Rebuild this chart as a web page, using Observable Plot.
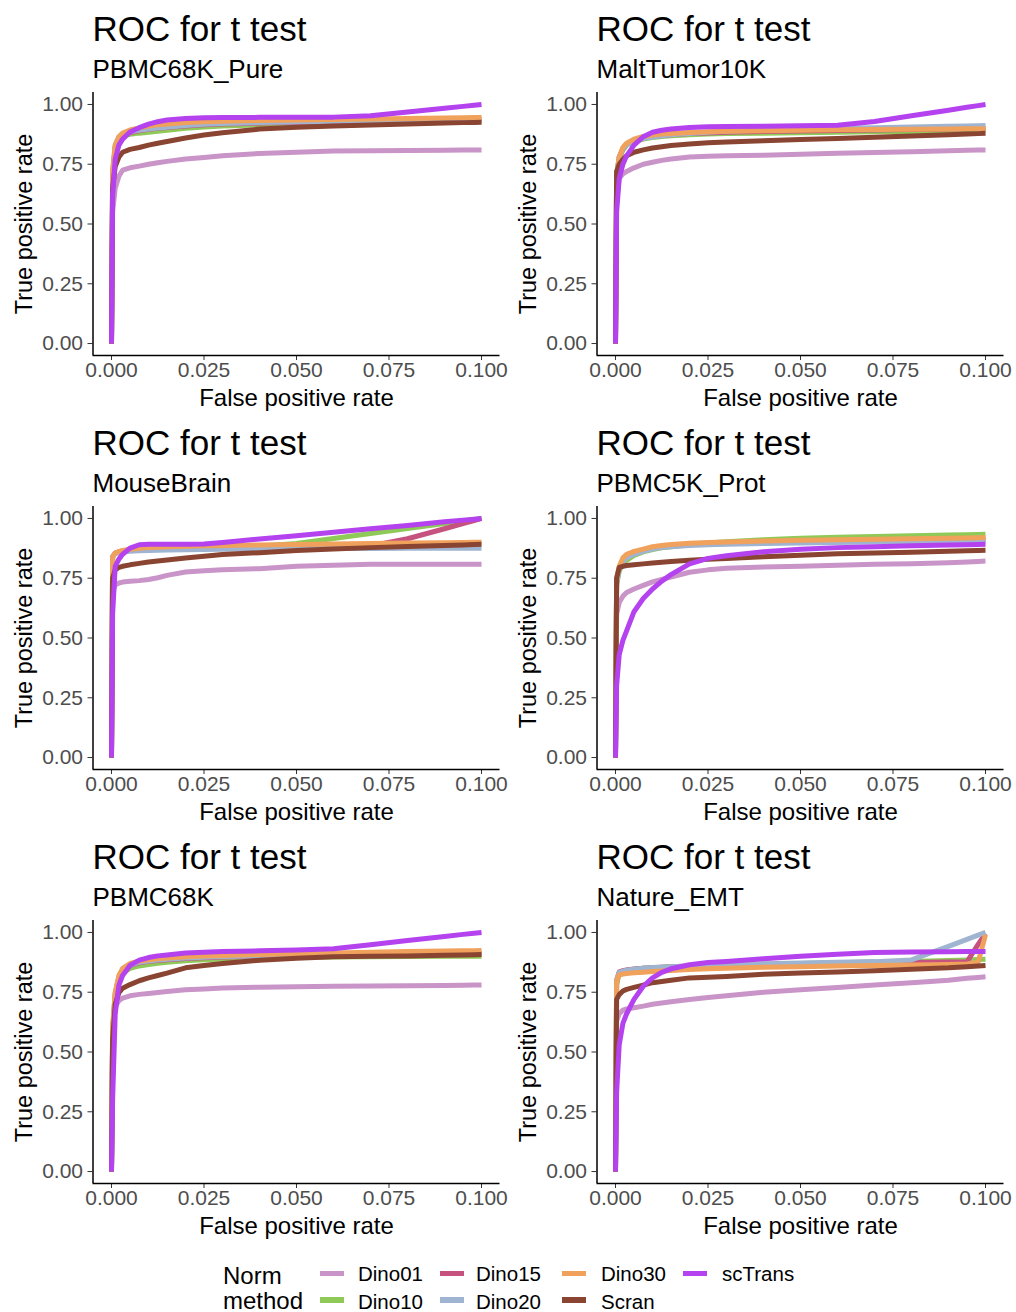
<!DOCTYPE html>
<html>
<head>
<meta charset="utf-8">
<script src="https://cdn.jsdelivr.net/npm/d3@7"></script>
<script src="https://cdn.jsdelivr.net/npm/@observablehq/plot@0.6"></script>
<style>
  html, body { margin: 0; padding: 0; background: #fff; }
  body { width: 1016px; height: 1312px; position: relative; overflow: hidden;
         font-family: "Liberation Sans", Arial, Helvetica, sans-serif; }
  .panel { position: absolute; }
  .ttl { position: absolute; font-size: 35px; line-height: 1; color: #000; white-space: nowrap; }
  .sub { position: absolute; font-size: 26px; line-height: 1; color: #000; white-space: nowrap; }
  g[aria-label="x-axis tick"], g[aria-label="y-axis tick"] { stroke: #333333; }
  .leg { position: absolute; font-size: 20.5px; line-height: 0.8; color: #000; white-space: nowrap; }
  .legt { position: absolute; font-size: 24px; line-height: 0.8; color: #000; white-space: nowrap; }
  .key { position: absolute; width: 24px; height: 5.5px; }
</style>
</head>
<body>
<script>
// ---------- data ----------
const methods = ["Dino01", "Dino10", "Dino15", "Dino20", "Dino30", "Scran", "scTrans"];
const methodColors = ["#c994c7", "#8fc957", "#c6527f", "#9fb4d0", "#f0a15c", "#8a4432", "#b442ee"];
const datasets = ["PBMC68K_Pure", "MaltTumor10K", "MouseBrain", "PBMC5K_Prot", "PBMC68K", "Nature_EMT"];
const plotTitle = "ROC for t test";
const xLabel = "False positive rate";
const yLabel = "True positive rate";
const legendTitle = ["Norm", "method"];
const xTicks = [0, 0.025, 0.05, 0.075, 0.1];
const yTicks = [0, 0.25, 0.5, 0.75, 1];

// false positive rates at which the curves are read
const fpr = [0, 0.0003, 0.001, 0.002, 0.003, 0.005, 0.0075, 0.01, 0.0125, 0.015, 0.02, 0.025, 0.03, 0.04, 0.05, 0.06, 0.07, 0.08, 0.09, 0.095, 0.098, 0.1];

// true positive rates, one row per method (order of `methods`)
const tprPBMC68K_Pure = [
  [0, 0.55, 0.65, 0.70, 0.725, 0.735, 0.742, 0.75, 0.756, 0.762, 0.772, 0.778, 0.785, 0.795, 0.8, 0.805, 0.806, 0.807, 0.808, 0.809, 0.81, 0.81],
  [0, 0.70, 0.82, 0.855, 0.868, 0.875, 0.88, 0.884, 0.888, 0.892, 0.9, 0.906, 0.91, 0.915, 0.918, 0.921, 0.923, 0.925, 0.927, 0.928, 0.929, 0.93],
  [0, 0.70, 0.82, 0.86, 0.872, 0.882, 0.89, 0.896, 0.9, 0.904, 0.91, 0.915, 0.918, 0.922, 0.925, 0.927, 0.929, 0.931, 0.933, 0.934, 0.935, 0.935],
  [0, 0.72, 0.83, 0.865, 0.878, 0.886, 0.892, 0.897, 0.901, 0.905, 0.912, 0.917, 0.92, 0.924, 0.927, 0.93, 0.932, 0.934, 0.936, 0.937, 0.938, 0.938],
  [0, 0.72, 0.83, 0.865, 0.88, 0.893, 0.902, 0.91, 0.915, 0.918, 0.924, 0.928, 0.93, 0.933, 0.935, 0.937, 0.939, 0.941, 0.943, 0.944, 0.945, 0.945],
  [0, 0.65, 0.74, 0.78, 0.80, 0.812, 0.82, 0.83, 0.838, 0.845, 0.86, 0.872, 0.882, 0.897, 0.905, 0.91, 0.914, 0.918, 0.922, 0.924, 0.925, 0.926],
  [0, 0.62, 0.77, 0.83, 0.855, 0.885, 0.903, 0.918, 0.928, 0.935, 0.941, 0.944, 0.945, 0.946, 0.946, 0.947, 0.953, 0.968, 0.984, 0.992, 0.997, 1.0]
];
const tprMaltTumor10K = [
  [0, 0.60, 0.69, 0.71, 0.72, 0.735, 0.75, 0.758, 0.766, 0.772, 0.78, 0.783, 0.785, 0.788, 0.792, 0.796, 0.799, 0.802, 0.806, 0.808, 0.81, 0.81],
  [0, 0.68, 0.77, 0.81, 0.83, 0.845, 0.855, 0.862, 0.866, 0.869, 0.873, 0.876, 0.878, 0.88, 0.882, 0.884, 0.886, 0.887, 0.888, 0.889, 0.889, 0.89],
  [0, 0.70, 0.78, 0.815, 0.833, 0.85, 0.86, 0.866, 0.87, 0.873, 0.878, 0.881, 0.884, 0.887, 0.889, 0.891, 0.893, 0.895, 0.897, 0.898, 0.899, 0.9],
  [0, 0.70, 0.78, 0.815, 0.832, 0.848, 0.858, 0.864, 0.869, 0.873, 0.879, 0.884, 0.888, 0.893, 0.897, 0.9, 0.903, 0.906, 0.909, 0.91, 0.911, 0.912],
  [0, 0.70, 0.78, 0.82, 0.838, 0.855, 0.866, 0.872, 0.876, 0.879, 0.883, 0.886, 0.888, 0.89, 0.892, 0.894, 0.895, 0.896, 0.897, 0.898, 0.898, 0.898],
  [0, 0.72, 0.75, 0.77, 0.785, 0.8, 0.81, 0.818, 0.823, 0.828, 0.835, 0.84, 0.843, 0.848, 0.853, 0.858, 0.863, 0.868, 0.873, 0.876, 0.878, 0.88],
  [0, 0.55, 0.69, 0.75, 0.785, 0.83, 0.865, 0.884, 0.892, 0.897, 0.904, 0.907, 0.908, 0.909, 0.911, 0.913, 0.929, 0.953, 0.976, 0.988, 0.995, 1.0]
];
const tprMouseBrain = [
  [0, 0.69, 0.722, 0.73, 0.734, 0.737, 0.74, 0.745, 0.752, 0.762, 0.776, 0.781, 0.785, 0.79, 0.8, 0.804, 0.808, 0.808, 0.808, 0.808, 0.808, 0.808],
  [0, 0.84, 0.855, 0.86, 0.864, 0.868, 0.872, 0.875, 0.877, 0.878, 0.88, 0.881, 0.882, 0.884, 0.895, 0.916, 0.937, 0.958, 0.979, 0.99, 0.996, 1.0],
  [0, 0.84, 0.855, 0.86, 0.864, 0.868, 0.872, 0.875, 0.877, 0.878, 0.879, 0.88, 0.881, 0.882, 0.883, 0.884, 0.885, 0.915, 0.957, 0.979, 0.991, 1.0],
  [0, 0.84, 0.852, 0.857, 0.86, 0.863, 0.865, 0.866, 0.867, 0.868, 0.869, 0.87, 0.871, 0.872, 0.873, 0.874, 0.874, 0.875, 0.875, 0.875, 0.875, 0.875],
  [0, 0.84, 0.855, 0.862, 0.866, 0.871, 0.875, 0.878, 0.88, 0.882, 0.884, 0.886, 0.887, 0.889, 0.891, 0.893, 0.895, 0.897, 0.898, 0.899, 0.9, 0.9],
  [0, 0.75, 0.785, 0.795, 0.8, 0.806, 0.812, 0.818, 0.822, 0.826, 0.835, 0.842, 0.849, 0.857, 0.866, 0.872, 0.878, 0.883, 0.887, 0.889, 0.891, 0.892],
  [0, 0.60, 0.80, 0.83, 0.85, 0.876, 0.89, 0.892, 0.892, 0.892, 0.892, 0.893, 0.899, 0.914, 0.928, 0.942, 0.957, 0.971, 0.986, 0.993, 0.997, 1.0]
];
const tprPBMC5K_Prot = [
  [0, 0.60, 0.648, 0.675, 0.69, 0.705, 0.72, 0.735, 0.745, 0.755, 0.775, 0.785, 0.792, 0.797, 0.8, 0.804, 0.808, 0.811, 0.815, 0.818, 0.82, 0.822],
  [0, 0.72, 0.78, 0.81, 0.825, 0.845, 0.86, 0.87, 0.877, 0.882, 0.89, 0.897, 0.903, 0.911, 0.917, 0.921, 0.925, 0.928, 0.931, 0.932, 0.933, 0.934],
  [0, 0.74, 0.79, 0.825, 0.84, 0.855, 0.867, 0.877, 0.883, 0.887, 0.892, 0.895, 0.897, 0.9, 0.902, 0.904, 0.906, 0.908, 0.91, 0.911, 0.912, 0.912],
  [0, 0.73, 0.785, 0.82, 0.835, 0.85, 0.862, 0.872, 0.878, 0.882, 0.887, 0.89, 0.892, 0.895, 0.897, 0.899, 0.901, 0.903, 0.904, 0.905, 0.906, 0.906],
  [0, 0.75, 0.80, 0.835, 0.85, 0.862, 0.872, 0.882, 0.887, 0.891, 0.896, 0.899, 0.902, 0.906, 0.909, 0.911, 0.913, 0.915, 0.917, 0.918, 0.919, 0.92],
  [0, 0.75, 0.795, 0.8, 0.803, 0.806, 0.81, 0.814, 0.817, 0.82, 0.825, 0.829, 0.833, 0.84, 0.846, 0.852, 0.856, 0.859, 0.863, 0.865, 0.866, 0.867],
  [0, 0.30, 0.43, 0.49, 0.53, 0.61, 0.665, 0.705, 0.738, 0.765, 0.81, 0.833, 0.844, 0.861, 0.871, 0.878, 0.882, 0.886, 0.889, 0.89, 0.891, 0.892]
];
const tprPBMC68K = [
  [0, 0.55, 0.69, 0.715, 0.725, 0.735, 0.741, 0.745, 0.749, 0.753, 0.76, 0.764, 0.768, 0.771, 0.773, 0.775, 0.776, 0.777, 0.778, 0.779, 0.78, 0.78],
  [0, 0.58, 0.73, 0.80, 0.83, 0.85, 0.86, 0.866, 0.871, 0.875, 0.882, 0.886, 0.889, 0.893, 0.895, 0.897, 0.898, 0.899, 0.9, 0.9, 0.9, 0.9],
  [0, 0.58, 0.74, 0.81, 0.84, 0.862, 0.873, 0.879, 0.883, 0.886, 0.891, 0.894, 0.897, 0.9, 0.903, 0.905, 0.907, 0.909, 0.91, 0.911, 0.912, 0.912],
  [0, 0.60, 0.745, 0.812, 0.842, 0.864, 0.875, 0.881, 0.885, 0.888, 0.893, 0.896, 0.899, 0.902, 0.905, 0.907, 0.909, 0.911, 0.913, 0.914, 0.915, 0.915],
  [0, 0.60, 0.75, 0.82, 0.85, 0.87, 0.88, 0.886, 0.89, 0.893, 0.898, 0.901, 0.904, 0.908, 0.911, 0.914, 0.917, 0.92, 0.922, 0.923, 0.924, 0.925],
  [0, 0.55, 0.70, 0.748, 0.767, 0.782, 0.798, 0.81, 0.82, 0.83, 0.852, 0.862, 0.87, 0.884, 0.892, 0.898, 0.9, 0.902, 0.905, 0.906, 0.907, 0.908],
  [0, 0.30, 0.66, 0.78, 0.82, 0.862, 0.884, 0.895, 0.902, 0.906, 0.914, 0.917, 0.92, 0.923, 0.927, 0.932, 0.949, 0.966, 0.983, 0.992, 0.997, 1.0]
];
const tprNature_EMT = [
  [0, 0.63, 0.66, 0.675, 0.68, 0.685, 0.692, 0.7, 0.705, 0.71, 0.72, 0.728, 0.735, 0.75, 0.76, 0.77, 0.78, 0.79, 0.8, 0.808, 0.812, 0.815],
  [0, 0.78, 0.83, 0.838, 0.842, 0.846, 0.85, 0.853, 0.855, 0.857, 0.86, 0.862, 0.864, 0.867, 0.87, 0.873, 0.876, 0.879, 0.883, 0.885, 0.887, 0.888],
  [0, 0.80, 0.835, 0.84, 0.843, 0.847, 0.85, 0.852, 0.854, 0.856, 0.859, 0.861, 0.863, 0.866, 0.868, 0.87, 0.872, 0.874, 0.876, 0.877, 0.95, 0.995],
  [0, 0.80, 0.832, 0.838, 0.842, 0.846, 0.85, 0.853, 0.855, 0.857, 0.86, 0.863, 0.865, 0.869, 0.872, 0.875, 0.878, 0.885, 0.942, 0.971, 0.989, 1.0],
  [0, 0.80, 0.822, 0.826, 0.828, 0.831, 0.834, 0.837, 0.839, 0.841, 0.845, 0.848, 0.85, 0.854, 0.857, 0.86, 0.862, 0.864, 0.866, 0.868, 0.875, 0.99],
  [0, 0.72, 0.74, 0.755, 0.762, 0.77, 0.78, 0.79, 0.795, 0.8, 0.81, 0.813, 0.816, 0.825, 0.83, 0.835, 0.84, 0.846, 0.852, 0.857, 0.86, 0.862],
  [0, 0.33, 0.53, 0.62, 0.66, 0.72, 0.775, 0.81, 0.833, 0.848, 0.865, 0.874, 0.879, 0.89, 0.9, 0.909, 0.916, 0.918, 0.919, 0.92, 0.92, 0.92]
];
const tprTables = [tprPBMC68K_Pure, tprMaltTumor10K, tprMouseBrain, tprPBMC5K_Prot, tprPBMC68K, tprNature_EMT];

// ---------- layout / scale settings ----------
const xDomain = [-0.005, 0.105];   // ggplot-style 5% expansion of [0, 0.1]
const yDomain = [-0.05, 1.05];     // ggplot-style 5% expansion of [0, 1]
const FONT = '"Liberation Sans", Arial, Helvetica, sans-serif';
const colStep = 504, rowStep = 414, topOffset = 80;

function rowsFor(table) {
  const out = [];
  methods.forEach((m, mi) => {
    fpr.forEach((f, i) => out.push({method: m, fpr: f, tpr: table[mi][i]}));
  });
  return out;
}

datasets.forEach((name, k) => {
  const col = k % 2, row = Math.floor(k / 2);
  const left = col * colStep, top = topOffset + row * rowStep;

  const svg = Plot.plot({
    width: 510, height: 340,
    marginLeft: 92.5, marginRight: 10.5, marginTop: 12, marginBottom: 65,
    style: {fontFamily: FONT, fontSize: "21px", color: "#4d4d4d", background: "transparent", overflow: "visible"},
    x: {domain: xDomain, ticks: xTicks, tickFormat: d3.format(".3f"), tickSize: 5, tickPadding: 2, label: null},
    y: {domain: yDomain, ticks: yTicks, tickFormat: d3.format(".2f"), tickSize: 5, tickPadding: 5, label: null},
    color: {domain: methods, range: methodColors},
    marks: [
      Plot.line(rowsFor(tprTables[k]), {x: "fpr", y: "tpr", z: "method", stroke: "method", strokeWidth: 5, strokeLinecap: "butt"}),
      Plot.ruleX([xDomain[0]], {stroke: "#000", strokeWidth: 1.5}),
      Plot.ruleY([yDomain[0]], {stroke: "#000", strokeWidth: 1.5}),
      Plot.text([xLabel], {text: d => d, frameAnchor: "bottom", textAnchor: "middle", lineAnchor: "middle", dy: 42.5, fontSize: 24, fill: "#000", fontFamily: FONT}),
      Plot.text([yLabel], {text: d => d, frameAnchor: "left", textAnchor: "middle", lineAnchor: "middle", rotate: -90, dx: -68.5, fontSize: 23.5, fill: "#000", fontFamily: FONT})
    ]
  });
  svg.classList.add("panel");
  svg.style.left = left + "px";
  svg.style.top = top + "px";
  svg.style.position = "absolute";
  document.body.appendChild(svg);

  const t = document.createElement("div");
  t.className = "ttl";
  t.textContent = plotTitle;
  t.style.left = (left + 92.5) + "px";
  t.style.top = (11.4 + row * rowStep) + "px";
  document.body.appendChild(t);

  const s = document.createElement("div");
  s.className = "sub";
  s.textContent = name;
  s.style.left = (left + 92.5) + "px";
  s.style.top = (55.7 + row * rowStep) + "px";
  document.body.appendChild(s);
});

// ---------- legend ----------
const legTitleTop = [1266.4, 1291];
legendTitle.forEach((w, i) => {
  const d = document.createElement("div");
  d.className = "legt";
  d.textContent = w;
  d.style.left = "223px";
  d.style.top = legTitleTop[i] + "px";
  document.body.appendChild(d);
});
const labTop = [1266.2, 1294.2];
const keyTop = [1270.75, 1297.25];
const keyX = [320, 440, 562, 683];
const labX = [358, 476, 601, 722];
methods.forEach((m, i) => {
  const c = Math.floor(i / 2), r = i % 2;
  const key = document.createElement("div");
  key.className = "key";
  key.style.background = methodColors[i];
  key.style.left = keyX[c] + "px";
  key.style.top = keyTop[r] + "px";
  document.body.appendChild(key);
  const lab = document.createElement("div");
  lab.className = "leg";
  lab.textContent = m;
  lab.style.left = labX[c] + "px";
  lab.style.top = labTop[r] + "px";
  document.body.appendChild(lab);
});
</script>
</body>
</html>
